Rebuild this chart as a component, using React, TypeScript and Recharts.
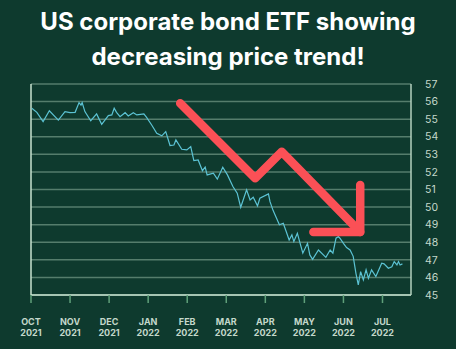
import React from "react";
import { LineChart, Line, XAxis, YAxis, CartesianGrid, ReferenceLine } from "recharts";

// month offset from 1 Oct 2021 (0 = OCT 2021), price
const monthOffsets = [
  0.02, 0.15, 0.31, 0.47, 0.7, 0.87, 1.0, 1.13, 1.23, 1.28, 1.31, 1.38, 1.53, 1.68, 1.81, 1.98,
  2.07, 2.13, 2.19, 2.28, 2.41, 2.49, 2.62, 2.71, 2.89, 2.96, 3.09, 3.22, 3.35, 3.45, 3.56, 3.66,
  3.71, 3.86, 3.99, 4.09, 4.17, 4.28, 4.39, 4.46, 4.51, 4.67, 4.77, 4.91, 5.03, 5.17, 5.28, 5.37,
  5.52, 5.61, 5.69, 5.8, 5.86, 6.08, 6.12, 6.2, 6.36, 6.46, 6.55, 6.61, 6.68, 6.73, 6.82, 6.96,
  7.08, 7.14, 7.21, 7.36, 7.55, 7.66, 7.73, 7.81, 7.87, 7.91, 8.0, 8.08, 8.17, 8.25, 8.32, 8.38,
  8.44, 8.51, 8.58, 8.64, 8.72, 8.83, 8.98, 9.04, 9.15, 9.24, 9.3, 9.37, 9.41, 9.45, 9.51,
];
const prices = [
  55.62, 55.39, 54.86, 55.48, 54.95, 55.43, 55.37, 55.39, 55.94, 55.8, 55.94, 55.43, 54.91, 55.3, 54.71, 55.2,
  55.24, 55.62, 55.39, 55.14, 55.37, 55.18, 55.37, 55.24, 55.3, 55.1, 54.67, 54.2, 54.05, 54.29, 53.5, 53.53,
  53.82, 53.29, 53.25, 53.44, 52.64, 52.68, 52.07, 52.27, 51.83, 51.93, 51.59, 52.27, 51.83, 51.17, 50.79, 49.99,
  50.98, 50.41, 50.56, 50.07, 50.5, 50.75, 50.31, 49.8, 48.99, 49.08, 48.51, 48.13, 48.42, 48.04, 48.51, 47.38,
  47.94, 47.28, 47.03, 47.56, 47.14, 47.56, 47.38, 48.23, 48.32, 48.23, 47.94, 47.7, 47.56, 47.2, 46.23, 45.58,
  46.33, 45.86, 46.43, 45.95, 46.43, 46.05, 46.81, 46.77, 46.52, 46.6, 46.9, 46.71, 46.9, 46.71, 46.77,
];

const monthLabels = ["OCT", "NOV", "DEC", "JAN", "FEB", "MAR", "APR", "MAY", "JUN", "JUL"];
const yearLabels = ["2021", "2021", "2021", "2022", "2022", "2022", "2022", "2022", "2022", "2022"];
const monthTicks = [0, 1, 2, 3, 4, 5, 6, 7, 8, 9];
const priceTicks = [45, 46, 47, 48, 49, 50, 51, 52, 53, 54, 55, 56, 57];

// annotation arrow (month offset, price)
const arrowBodyX = [3.82, 5.74, 6.42, 8.43];
const arrowBodyY = [55.9, 51.64, 53.15, 48.58];
const arrowHeadX = [7.23, 8.43, 8.43];
const arrowHeadY = [48.58, 48.58, 51.26];

const series = monthOffsets.map((m, i) => ({ m, y: prices[i] }));
const arrowBody = arrowBodyX.map((m, i) => ({ m, y: arrowBodyY[i] }));
const arrowHead = arrowHeadX.map((m, i) => ({ m, y: arrowHeadY[i] }));

const BG = "#0e3a2e";
const FONT = "Inter, 'Noto Sans', sans-serif";

const XTick = (props: any) => {
  const { x, y, payload } = props;
  const i = payload.value as number;
  return (
    <g>
      <text x={x} y={y + 20} textAnchor="middle" fill="#c4d8cb" fontSize={9} fontWeight={700} fontFamily={FONT}>
        {monthLabels[i]}
      </text>
      <text x={x} y={y + 31} textAnchor="middle" fill="#c4d8cb" fontSize={9} fontWeight={700} fontFamily={FONT}>
        {yearLabels[i]}
      </text>
    </g>
  );
};

export default function App() {
  return (
    <div style={{ position: "absolute", left: 0, top: 0, width: 456, height: 349, background: BG, overflow: "hidden" }}>
      <div
        style={{
          position: "absolute",
          left: 0,
          top: 4,
          width: 456,
          textAlign: "center",
          color: "#ffffff",
          fontFamily: FONT,
          fontWeight: 700,
          fontSize: 24,
          lineHeight: "35px",
        }}
      >
        US corporate bond ETF showing
        <br />
        decreasing price trend!
      </div>
      <LineChart width={456} height={349} margin={{ top: 84, right: 0, left: 31, bottom: 0 }} data={series}>
        <CartesianGrid horizontal vertical={false} stroke="#557d6c" strokeWidth={1.5} />
        <XAxis
          dataKey="m"
          type="number"
          domain={[0, 9.73]}
          ticks={monthTicks}
          allowDataOverflow
          height={54}
          axisLine={{ stroke: "#c9e3d1", strokeWidth: 1.5 }}
          tickLine={{ stroke: "#5fa07a", strokeWidth: 1.5 }}
          tickSize={8}
          tick={<XTick />}
          interval={0}
        />
        <YAxis
          orientation="right"
          type="number"
          domain={[45, 57]}
          ticks={priceTicks}
          width={45}
          axisLine={{ stroke: "#b5d2bf", strokeWidth: 1.5 }}
          tickLine={false}
          tickMargin={8}
          tick={{ fill: "#c4d8cb", fontSize: 10.5, fontFamily: FONT }}
          interval={0}
        />
        <ReferenceLine x={0} stroke="#c9e3d1" strokeWidth={1.5} />
        <Line
          type="linear"
          dataKey="y"
          stroke="#5cc3d4"
          strokeWidth={1.2}
          dot={false}
          isAnimationActive={false}
        />
        <Line
          data={arrowBody}
          type="linear"
          dataKey="y"
          stroke="#fb5056"
          strokeWidth={8.5}
          strokeLinecap="round"
          strokeLinejoin="round"
          dot={false}
          isAnimationActive={false}
        />
        <Line
          data={arrowHead}
          type="linear"
          dataKey="y"
          stroke="#fb5056"
          strokeWidth={8.5}
          strokeLinecap="round"
          strokeLinejoin="round"
          dot={false}
          isAnimationActive={false}
        />
      </LineChart>
    </div>
  );
}
